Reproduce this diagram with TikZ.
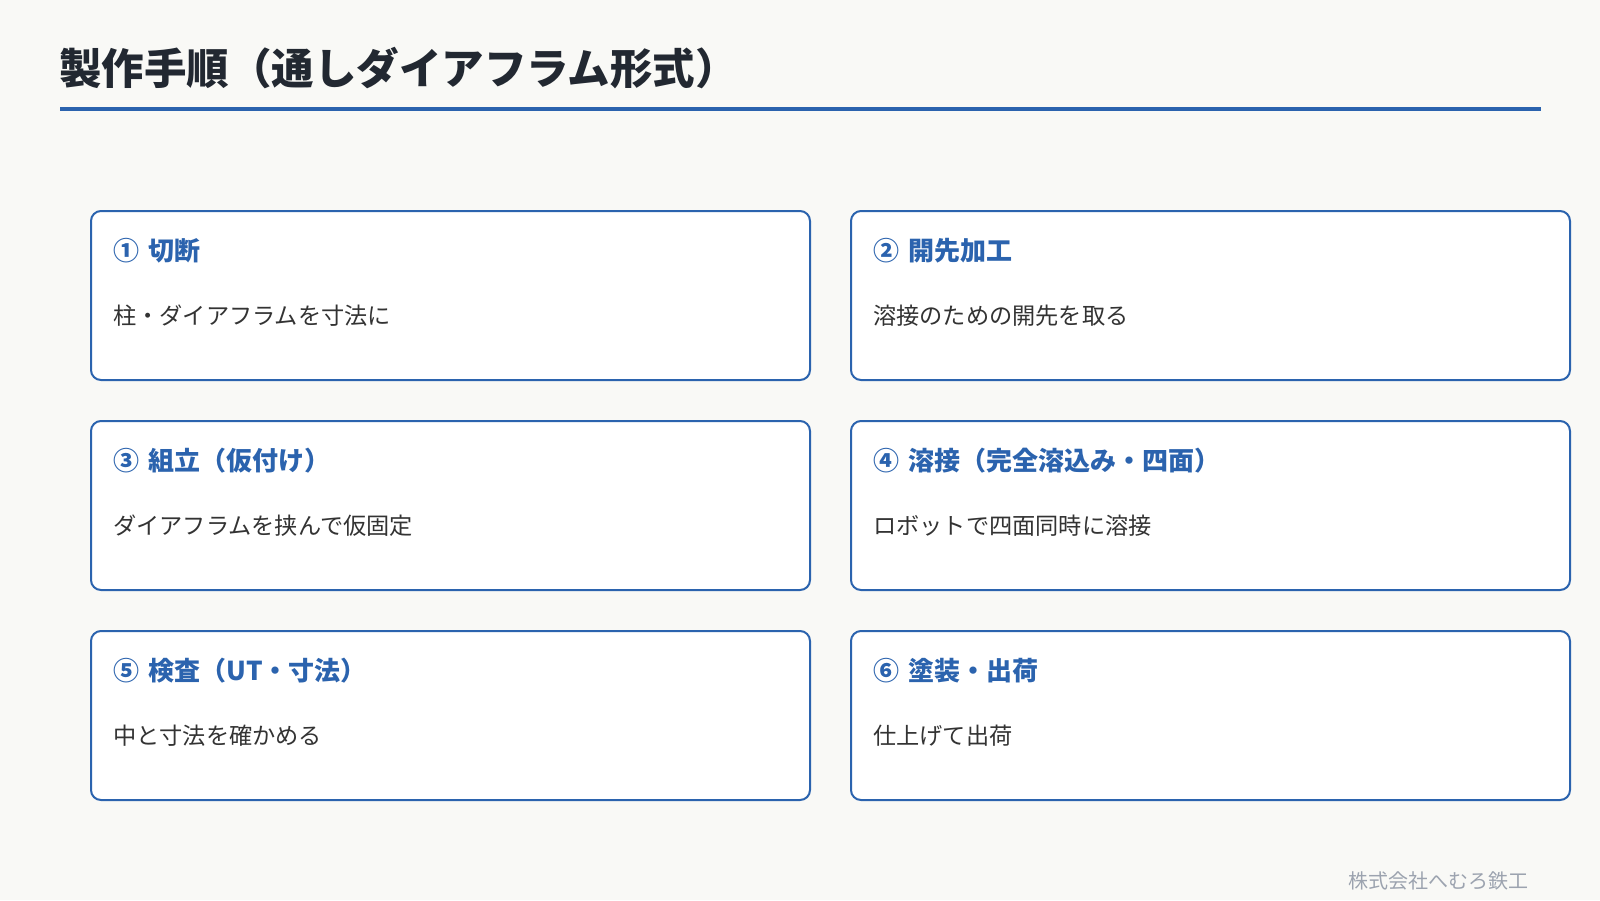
\documentclass[tikz,border=0pt]{standalone}
\usepackage{fontspec}
\setmainfont{Noto Sans CJK JP}
\usetikzlibrary{calc}
\definecolor{bgc}{HTML}{F9F9F6}
\definecolor{titlec}{HTML}{222831}
\definecolor{bluec}{HTML}{2B63AE}
\definecolor{bodyc}{HTML}{333333}
\definecolor{footc}{HTML}{9CA3AF}
\newcommand{\numgap}{\hspace{9pt}}
\tikzset{
  stepcard/.style={draw=bluec, line width=2pt, fill=white, rounded corners=10pt,
    minimum width=719pt, minimum height=169pt, inner sep=0pt},
  cardhead/.style={anchor=west, inner sep=0pt, text=bluec, font=\fontsize{26}{30}\selectfont\bfseries},
  cardbody/.style={anchor=west, inner sep=0pt, text=bodyc, font=\fontsize{23.2}{27}\selectfont},
}
\begin{document}
\begin{tikzpicture}[x=1pt,y=-1pt]
\fill[bgc] (0,0) rectangle (1600,900);
\useasboundingbox (0,0) rectangle (1600,900);
\node[anchor=west, inner sep=0pt, text=titlec, font=\fontsize{42.5}{48}\selectfont\bfseries] (title) at (59,68) {製作手順（通しダイアフラム形式）};
\coordinate (ruleL) at (60,108.7);
\coordinate (ruleR) at (1541,108.7);
\draw[bluec, line width=4pt] (ruleL) -- (ruleR);

\node[stepcard] (b1) at (450.5,295.5) {};
\node[stepcard] (b2) at (1210.5,295.5) {};
\node[stepcard] (b3) at (450.5,505.5) {};
\node[stepcard] (b4) at (1210.5,505.5) {};
\node[stepcard] (b5) at (450.5,715.5) {};
\node[stepcard] (b6) at (1210.5,715.5) {};

\node[cardhead] (h1) at ($(b1.north west)+(23,41)$) {①\numgap 切断};
\node[cardbody] (t1) at ($(b1.north west)+(23,106)$) {柱・ダイアフラムを寸法に};
\node[cardhead] (h2) at ($(b2.north west)+(23,41)$) {②\numgap 開先加工};
\node[cardbody] (t2) at ($(b2.north west)+(23,106)$) {溶接のための開先を取る};
\node[cardhead] (h3) at ($(b3.north west)+(23,41)$) {③\numgap 組立（仮付け）};
\node[cardbody] (t3) at ($(b3.north west)+(23,106)$) {ダイアフラムを挟んで仮固定};
\node[cardhead] (h4) at ($(b4.north west)+(23,41)$) {④\numgap 溶接（完全溶込み・四面）};
\node[cardbody] (t4) at ($(b4.north west)+(23,106)$) {ロボットで四面同時に溶接};
\node[cardhead] (h5) at ($(b5.north west)+(23,41)$) {⑤\numgap 検査（UT・寸法）};
\node[cardbody] (t5) at ($(b5.north west)+(23,106)$) {中と寸法を確かめる};
\node[cardhead] (h6) at ($(b6.north west)+(23,41)$) {⑥\numgap 塗装・出荷};
\node[cardbody] (t6) at ($(b6.north west)+(23,106)$) {仕上げて出荷};

\node[anchor=east, inner sep=0pt, text=footc, font=\fontsize{20}{24}\selectfont] (foot) at (1529,881) {株式会社へむろ鉄工};
\end{tikzpicture}
\end{document}
